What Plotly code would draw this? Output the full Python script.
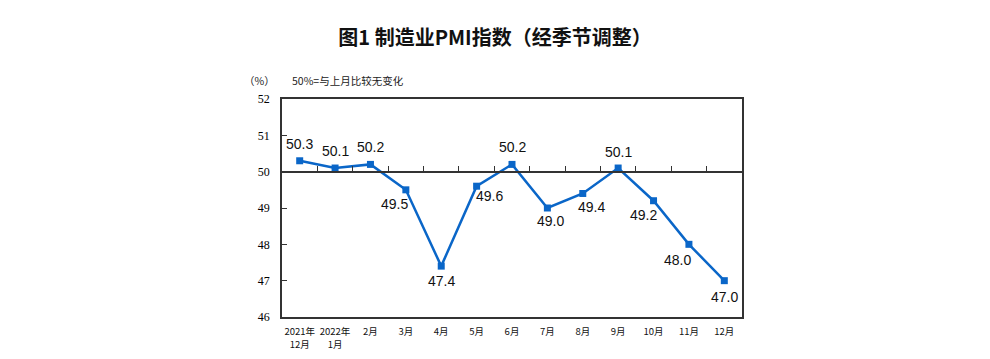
import plotly.graph_objects as go

categories = ["2021年<br>12月", "2022年<br>1月", "2月", "3月", "4月", "5月", "6月",
              "7月", "8月", "9月", "10月", "11月", "12月"]
pmi_values = [50.3, 50.1, 50.2, 49.5, 47.4, 49.6, 50.2, 49.0, 49.4, 50.1, 49.2, 48.0, 47.0]
value_labels = ["50.3", "50.1", "50.2", "49.5", "47.4", "49.6", "50.2", "49.0", "49.4", "50.1", "49.2", "48.0", "47.0"]
# label offsets in pixels (dx, dy) relative to each point
label_dx = [0, 0, 0, -11, 0, 13, 0, 3, 9, 0, -10, -11, 0]
label_dy = [17, 17, 17, -14, -15, -10, 17, -13, -14, 16, -14, -16, -16]
y_ticks = [46, 47, 48, 49, 50, 51, 52]
boundary_ticks = [i + 0.5 for i in range(len(categories) - 1)]

LINE_COLOR = "#0a66c8"
CJK = "Noto Sans CJK SC"

fig = go.Figure()
fig.add_trace(go.Scatter(
    x=categories, y=pmi_values, mode="lines+markers",
    line=dict(color=LINE_COLOR, width=2.5),
    marker=dict(symbol="square", size=7, color=LINE_COLOR),
    hoverinfo="skip", showlegend=False,
))
# invisible trace to carry the 50-line axis with category-boundary ticks
fig.add_trace(go.Scatter(
    x=[-0.5, 12.5], y=[50, 50], xaxis="x2", yaxis="y", mode="lines",
    line=dict(width=0), hoverinfo="skip", showlegend=False,
))

for cat, v, t, dx, dy in zip(categories, pmi_values, value_labels, label_dx, label_dy):
    fig.add_annotation(x=cat, y=v, text=t, showarrow=False, xshift=dx, yshift=dy,
                       font=dict(family="Liberation Sans, Arial", size=14, color="#111"))

fig.add_annotation(xref="paper", yref="paper", x=-0.01, y=1.0, yshift=19, text="（%）",
                   showarrow=False, xanchor="right", yanchor="middle",
                   font=dict(family=CJK, size=10.5, color="#222"))
fig.add_annotation(xref="paper", yref="paper", x=0.017, y=1.0, yshift=19, text="50%=与上月比较无变化",
                   showarrow=False, xanchor="left", yanchor="middle",
                   font=dict(family=CJK, size=10.5, color="#222"))

fig.update_layout(
    width=990, height=359,
    margin=dict(l=282, r=248, t=99, b=42, autoexpand=False),
    paper_bgcolor="white", plot_bgcolor="white",
    title=dict(text="图1 制造业PMI指数（经季节调整）", x=0.5, xanchor="center",
               y=1 - 38 / 359, yref="container", yanchor="middle",
               font=dict(family=CJK, size=20, color="#111", weight="bold")),
    xaxis=dict(type="category", range=[-0.5, 12.5], showgrid=False, zeroline=False,
               showline=True, linecolor="#333", linewidth=1.5, mirror=True, automargin=False,
               ticks="", tickfont=dict(family=CJK, size=9.5, color="#111"),
               ticklabelstandoff=5),
    xaxis2=dict(overlaying="x", anchor="free", position=(50 - 46) / 6, side="top",
                range=[-0.5, 12.5], showgrid=False, zeroline=False, showline=True,
                linecolor="#333", linewidth=1.5, ticks="outside", ticklen=5, automargin=False,
                tickcolor="#333", tickwidth=1, tickvals=boundary_ticks, showticklabels=False),
    yaxis=dict(range=[46, 52], tickvals=y_ticks, showgrid=False, zeroline=False,
               showline=True, linecolor="#333", linewidth=1.5, mirror=True, automargin=False,
               ticks="inside", ticklen=5, tickcolor="#333",
               tickfont=dict(family="Liberation Serif", size=12, color="#000"),
               ticklabelstandoff=8),
)

fig.write_html("out.html", config={"displayModeBar": False},
               post_script="document.body.style.margin='0';")
